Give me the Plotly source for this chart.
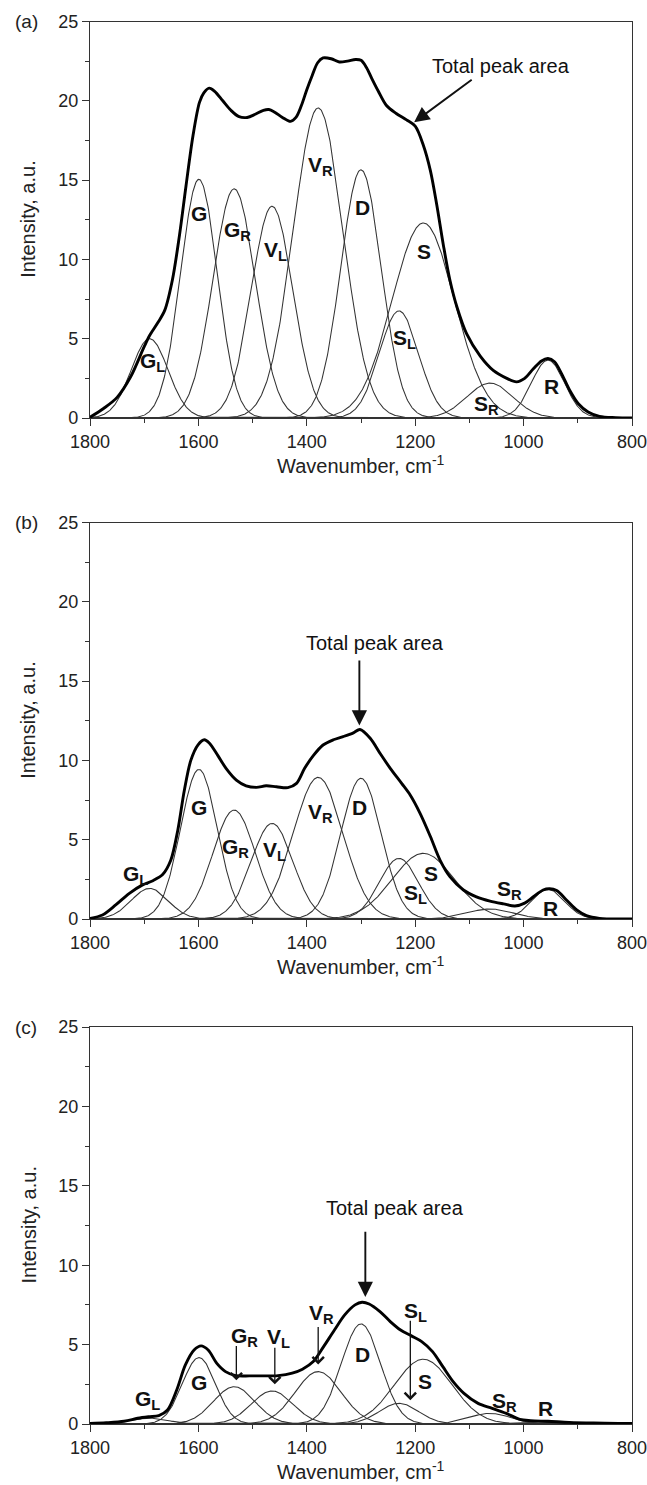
import numpy as np
import plotly.graph_objects as go

# ---------------- data ----------------
band_labels = ["G<sub>L</sub>", "G", "G<sub>R</sub>", "V<sub>L</sub>", "V<sub>R</sub>",
               "D", "S<sub>L</sub>", "S", "S<sub>R</sub>", "R"]
band_centers = [1690, 1599, 1534, 1464, 1379, 1300, 1230, 1185, 1062, 955]

fwhm_a = [80, 80, 92, 90, 108, 88, 85, 135, 100, 72]
fwhm_b = [80, 80, 92, 90, 108, 88, 85, 135, 100, 72]
fwhm_c = [80, 72, 90, 90, 100, 85, 85, 125, 90, 90]

heights_a = [5.0, 15.05, 14.45, 13.35, 19.55, 15.65, 6.75, 12.3, 2.2, 3.65]
heights_b = [1.93, 9.43, 6.87, 6.03, 8.93, 8.87, 3.82, 4.14, 0.63, 1.87]
heights_c = [0.36, 4.18, 2.35, 2.08, 3.3, 6.3, 1.3, 4.08, 0.67, 0.12]

total_a_wn = [1800, 1775, 1750, 1725, 1700, 1690, 1675, 1662, 1648, 1635, 1623, 1610,
              1598, 1590, 1580, 1570, 1555, 1540, 1525, 1510, 1495, 1480, 1470, 1460,
              1445, 1430, 1420, 1410, 1400, 1390, 1380, 1370, 1355, 1340, 1325, 1310,
              1300, 1290, 1280, 1268, 1253, 1235, 1216, 1200, 1185, 1172, 1160, 1148,
              1136, 1123, 1105, 1080, 1056, 1031, 1013, 998, 982, 967, 955, 943, 930,
              915, 899, 881, 860, 830, 800]
total_a_val = [0.05, 0.6, 1.3, 2.6, 4.5, 5.2, 6.0, 6.8, 8.7, 11.5, 14.6, 17.8,
               19.9, 20.5, 20.8, 20.6, 20.0, 19.4, 19.0, 18.95, 19.15, 19.4, 19.45, 19.3,
               18.95, 18.7, 18.95, 19.7, 20.7, 21.6, 22.4, 22.7, 22.65, 22.45, 22.5, 22.6,
               22.55, 22.1, 21.4, 20.6, 19.7, 19.2, 18.8, 18.4, 17.2, 15.6, 13.4, 10.9,
               8.7, 7.0, 5.3, 3.9, 3.0, 2.5, 2.28, 2.5, 3.1, 3.6, 3.75, 3.55, 2.8,
               1.75, 0.9, 0.38, 0.1, 0.02, 0.0]

total_b_wn = [1800, 1777, 1752, 1728, 1703, 1685, 1666, 1651, 1638, 1626, 1614, 1601,
              1589, 1580, 1564, 1549, 1530, 1512, 1493, 1475, 1456, 1435, 1419, 1404,
              1388, 1370, 1351, 1333, 1314, 1302, 1283, 1264, 1246, 1225, 1209, 1191,
              1172, 1154, 1136, 1111, 1087, 1062, 1037, 1016, 998, 982, 964, 952, 939,
              921, 902, 884, 860, 817, 800]
total_b_val = [0.04, 0.25, 0.9, 1.6, 2.15, 2.4, 2.8, 3.7, 5.6, 8.1, 10.0, 10.97,
               11.3, 11.1, 10.3, 9.5, 8.76, 8.4, 8.3, 8.4, 8.34, 8.28, 8.55, 9.5,
               10.3, 10.97, 11.3, 11.5, 11.74, 11.95, 11.4, 10.4, 9.5, 8.55, 7.8, 6.66,
               5.2, 3.7, 2.67, 1.83, 1.4, 1.13, 0.95, 0.82, 1.0, 1.4, 1.83, 1.91, 1.79,
               1.2, 0.57, 0.21, 0.04, 0.0, 0.0]

total_c_wn = [1800, 1770, 1737, 1712, 1692, 1673, 1657, 1640, 1624, 1608, 1595, 1582,
              1566, 1550, 1531, 1505, 1479, 1453, 1427, 1408, 1388, 1369, 1349, 1330,
              1311, 1298, 1285, 1265, 1246, 1227, 1207, 1188, 1168, 1149, 1130, 1110,
              1084, 1058, 1032, 1007, 987, 955, 916, 871, 825, 800]
total_c_val = [0.04, 0.08, 0.17, 0.36, 0.46, 0.53, 0.88, 2.14, 3.72, 4.66, 4.92, 4.66,
               3.82, 3.3, 3.05, 3.03, 3.03, 3.05, 3.2, 3.45, 3.93, 4.87, 5.92, 6.87,
               7.5, 7.67, 7.56, 7.08, 6.45, 5.92, 5.55, 5.19, 4.56, 3.61, 2.67, 1.93,
               1.3, 0.99, 0.67, 0.29, 0.21, 0.17, 0.1, 0.06, 0.04, 0.03]

# label positions (wavenumber, intensity) per panel
label_pos_a = [(1685, 3.5), (1599, 12.9), (1528, 11.8), (1457, 10.5), (1374, 15.9),
               (1298, 13.3), (1219, 5.0), (1183, 10.5), (1069, 0.8), (948, 2.0)]
label_pos_b = [(1716, 2.8), (1599, 7.0), (1531, 4.5), (1460, 4.3), (1374, 6.7),
               (1302, 7.0), (1200, 1.6), (1171, 2.9), (1026, 1.8), (950, 0.65)]
label_pos_c = [(1693, 1.5), (1599, 2.6), (1515, 5.5), (1453, 5.4), (1372, 6.9),
               (1298, 4.4), (1200, 7.05), (1182, 2.7), (1036, 1.4), (960, 0.95)]

panel_letters = ["(a)", "(b)", "(c)"]
total_text = "Total peak area"
main_arrow = [(1202, 18.65, 1093, 21.4), (1303, 12.2, 1303, 16.4), (1292, 8.0, 1292, 12.2)]
main_text_pos = [(1042, 22.2), (1274, 17.4), (1238, 13.6)]
small_arrows_c = [(1530, 2.75, 1530, 5.0), (1459, 2.5, 1459, 4.9),
                  (1379, 3.75, 1379, 6.2), (1209, 1.5, 1209, 6.6)]

x_title = "Wavenumber, cm<sup>-1</sup>"
y_title = "Intensity, a.u."

# ---------------- figure ----------------
FONT = "Liberation Sans, Arial, Helvetica, sans-serif"
W, H = 647, 1485
ML, MR, MT, MB = 90, 15, 21, 61
plot_h = H - MT - MB
panel_px = [(21.5, 418.0), (522.5, 919.0), (1027.0, 1424.0)]
domains = [[(H - MB - b) / plot_h, (H - MB - t) / plot_h] for (t, b) in panel_px]

grid = np.linspace(800, 1800, 1001)

fig = go.Figure()
panels = [
    (heights_a, fwhm_a, total_a_wn, total_a_val, label_pos_a),
    (heights_b, fwhm_b, total_b_wn, total_b_val, label_pos_b),
    (heights_c, fwhm_c, total_c_wn, total_c_val, label_pos_c),
]

annotations = []
axis_line = "#333333"
for i, (hts, fw, twn, tval, lpos) in enumerate(panels):
    sfx = "" if i == 0 else str(i + 1)
    xa, ya = "x" + sfx, "y" + sfx
    for c, h, w in zip(band_centers, hts, fw):
        s = w / 2.3548
        fig.add_trace(go.Scatter(x=grid, y=h * np.exp(-(grid - c) ** 2 / (2 * s * s)),
                                 mode="lines", line=dict(color="#333333", width=1.05),
                                 xaxis=xa, yaxis=ya, hoverinfo="skip", showlegend=False))
    fig.add_trace(go.Scatter(x=twn, y=tval, mode="lines",
                             line=dict(color="black", width=2.9, shape="spline", smoothing=0.9),
                             xaxis=xa, yaxis=ya, hoverinfo="skip", showlegend=False))
    fig.layout["xaxis" + sfx] = dict(
        domain=[0, 1], anchor=ya, range=[1800, 800], tick0=800, dtick=200,
        ticks="outside", ticklen=7, tickwidth=1.2, tickcolor=axis_line,
        showline=True, linecolor=axis_line, linewidth=1.2, mirror=True,
        showgrid=False, zeroline=False, automargin=False, ticklabeloverflow="allow",
        minor=dict(dtick=100, tick0=800, ticks="outside", ticklen=4, tickwidth=1.2,
                   tickcolor=axis_line, showgrid=False),
        tickfont=dict(family=FONT, size=18, color="#222"))
    fig.layout["yaxis" + sfx] = dict(
        domain=domains[i], anchor=xa, range=[0, 25], tick0=0, dtick=5,
        ticks="outside", ticklen=7, tickwidth=1.2, tickcolor=axis_line,
        showline=True, linecolor=axis_line, linewidth=1.2, mirror=True,
        showgrid=False, zeroline=False, automargin=False, ticklabeloverflow="allow",
        minor=dict(dtick=2.5, tick0=0, ticks="outside", ticklen=4, tickwidth=1.2,
                   tickcolor=axis_line, showgrid=False),
        tickfont=dict(family=FONT, size=18, color="#222"))

    dom_x, dom_y = xa + " domain", ya + " domain"
    annotations.append(dict(text=x_title, xref=dom_x, yref=dom_y, x=0.5, y=0,
                            xanchor="center", yanchor="middle", yshift=-46, showarrow=False,
                            font=dict(family=FONT, size=20, color="#222")))
    annotations.append(dict(text=y_title, xref=dom_x, yref=dom_y, x=0, y=0.5,
                            xanchor="center", yanchor="middle", xshift=-62, textangle=-90,
                            showarrow=False, font=dict(family=FONT, size=20, color="#222")))
    annotations.append(dict(text=panel_letters[i], xref=dom_x, yref=dom_y, x=0, y=1,
                            xanchor="center", yanchor="middle", xshift=-64, yshift=0,
                            showarrow=False, font=dict(family=FONT, size=19, color="#222")))
    for lab, (lx, ly) in zip(band_labels, lpos):
        annotations.append(dict(text="<b>" + lab + "</b>", xref=xa, yref=ya, x=lx, y=ly,
                                xanchor="center", yanchor="middle", showarrow=False,
                                font=dict(family=FONT, size=21, color="#111")))
    tx, ty = main_text_pos[i]
    annotations.append(dict(text=total_text, xref=xa, yref=ya, x=tx, y=ty,
                            xanchor="center", yanchor="middle", showarrow=False,
                            font=dict(family=FONT, size=20, color="#111")))
    hx, hy, ax_, ay_ = main_arrow[i]
    annotations.append(dict(text="", xref=xa, yref=ya, x=hx, y=hy, axref=xa, ayref=ya,
                            ax=ax_, ay=ay_, showarrow=True, arrowhead=2, arrowsize=1.6,
                            arrowwidth=1.9, arrowcolor="#111", standoff=0, startstandoff=0))
    if i == 2:
        for (hx, hy, ax_, ay_) in small_arrows_c:
            annotations.append(dict(text="", xref=xa, yref=ya, x=hx, y=hy, axref=xa, ayref=ya,
                                    ax=ax_, ay=ay_, showarrow=True, arrowhead=4, arrowsize=1.7,
                                    arrowwidth=1.3, arrowcolor="#111", standoff=0,
                                    startstandoff=0))

fig.update_layout(width=W, height=H, margin=dict(l=ML, r=MR, t=MT, b=MB),
                  paper_bgcolor="white", plot_bgcolor="white", showlegend=False,
                  annotations=annotations, font=dict(family=FONT, color="#222"))

fig.write_html("out.html")
